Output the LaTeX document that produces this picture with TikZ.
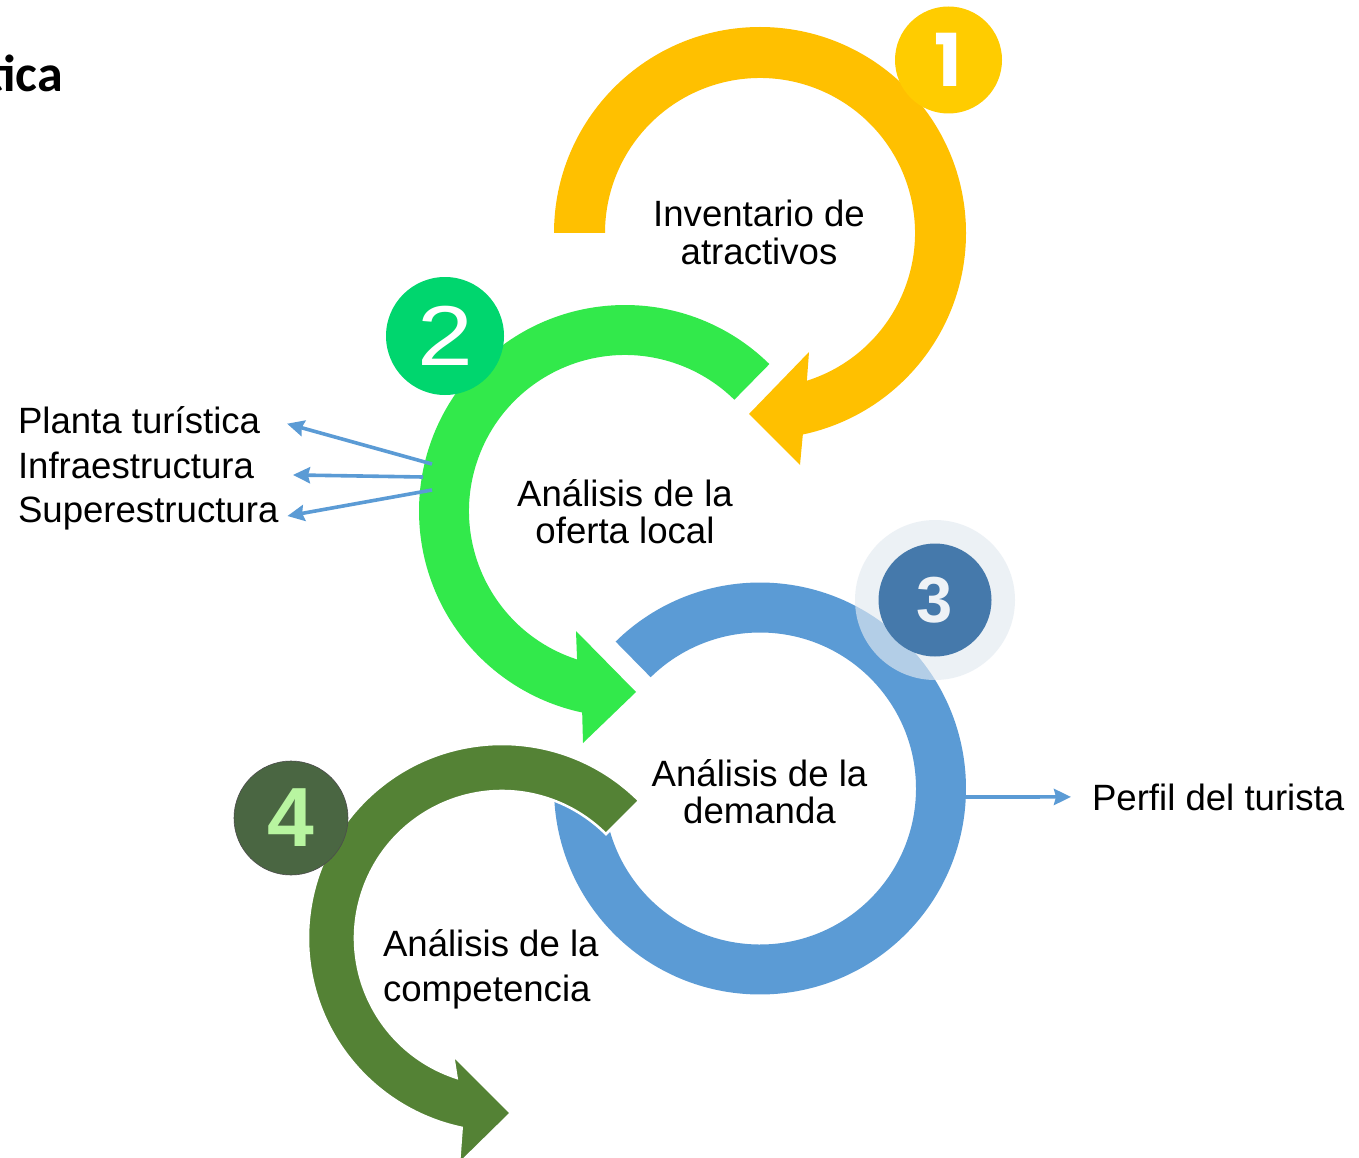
\documentclass[tikz,border=0pt]{standalone}
\usepackage{fontspec}
\setmainfont{Liberation Sans}
\newfontfamily\titlefont{Carlito}
\newfontfamily\popfont{Poppins}
\usetikzlibrary{arrows.meta,calc}
\definecolor{yellowArc}{HTML}{FFC000}
\definecolor{yellowCirc}{HTML}{FFCC00}
\definecolor{greenArc}{HTML}{32E94B}
\definecolor{greenCirc}{HTML}{00D66E}
\definecolor{blueArc}{HTML}{5B9BD5}
\definecolor{blueCirc}{HTML}{4579AB}
\definecolor{haloCol}{HTML}{E3EAF1}
\definecolor{darkArc}{HTML}{548235}
\definecolor{darkCirc}{HTML}{4A6642}
\definecolor{fourCol}{HTML}{B8F5A0}
\definecolor{threeCol}{HTML}{EEF2F6}
\definecolor{connCol}{HTML}{5B9BD5}
\begin{document}
\begin{tikzpicture}[x=1pt,y=-1pt,
  lbl/.style={inner sep=0pt, outer sep=0pt, font=\fontsize{36.6}{37.5}\selectfont},
  numcirc/.style={circle, inner sep=0pt, outer sep=0pt},
  conn/.style={draw=connCol, line width=3.6pt, -{Stealth[length=17pt,width=16pt,inset=2pt]}}]
\useasboundingbox (0,0) rectangle (1359,1158);
\clip (0,0) rectangle (1359,1158);
\fill[white] (0,0) rectangle (1359,1158);

% centres of the four circular arrows
\coordinate (cY) at (760,233);
\coordinate (cG) at (625,511);
\coordinate (cB) at (760,788.5);
\coordinate (cD) at (502,938);

% 1 yellow arc
\fill[yellowArc] ($(cY)+(180:206)$) arc[start angle=180,end angle=438,radius=206]
  -- (800,465) -- (749,414) -- (809,352) -- ($(cY)+(72.4:155)$)
  arc[start angle=72.4,end angle=-180,radius=155] -- cycle;

% 2 green arc
\fill[greenArc] ($(cG)+(-45.5:206)$) arc[start angle=-45.5,end angle=-258,radius=206]
  -- (583,743) -- (636,692) -- (576,631) -- ($(cG)+(-252.1:156)$)
  arc[start angle=-252.1,end angle=-45.5,radius=156] -- cycle;

% 3 blue arc
\fill[blueArc] ($(cB)+(-134.5:206)$) arc[start angle=-134.5,end angle=182,radius=206]
  -- ($(cB)+(182:156)$) arc[start angle=182,end angle=-134.5,radius=156] -- cycle;

% 4 dark green arc
\filldraw[fill=darkArc, draw=white, line width=2.5pt, line join=miter]
  ($(cD)+(-45:194)$) arc[start angle=-45,end angle=-258,radius=194]
  -- (459,1164) -- (511,1113) -- (453,1055) -- ($(cD)+(-252:147)$)
  arc[start angle=-252,end angle=-45,radius=147] -- cycle;

% number badges
\fill[haloCol, opacity=0.65] (935,600) circle[radius=80];
\node[numcirc, fill=blueCirc, minimum size=113pt, text=threeCol,
  font=\bfseries\fontsize{65}{65}\selectfont] (n3) at (935,600) {3};
\node[numcirc, fill=yellowCirc, minimum size=107pt, text=white,
  font=\popfont\bfseries\fontsize{73}{73}\selectfont] (n1) at (948.5,60) {1};
\node[numcirc, fill=greenCirc, minimum size=118pt, text=white,
  font=\fontsize{85}{85}\selectfont] (n2) at (445,336) {\scalebox{1.18}[1]{2}};
\node[numcirc, fill=darkCirc, draw=black!70, line width=0.6pt, minimum size=114pt, text=fourCol,
  font=\bfseries\fontsize{84}{84}\selectfont] (n4) at (291,818) {4};

% title (cut off at the left edge, as in the reference)
\node[anchor=base east, inner sep=0pt, font=\titlefont\bfseries\fontsize{52}{52}\selectfont] (title) at (63,92) {turística};

% labels inside the arcs
\node[lbl, anchor=base] (inv) at (759,227) {\begin{tabular}[t]{@{}c@{}}Inventario de\\atractivos\end{tabular}};
\node[lbl, anchor=base] (oferta) at (625,506) {\begin{tabular}[t]{@{}c@{}}Análisis de la\\oferta local\end{tabular}};
\node[lbl, anchor=base] (demanda) at (759.5,786) {\begin{tabular}[t]{@{}c@{}}Análisis de la\\demanda\end{tabular}};
\node[lbl, anchor=base west, font=\fontsize{36.6}{45}\selectfont] (compet) at (383,956) {\begin{tabular}[t]{@{}l@{}}Análisis de la\\competencia\end{tabular}};

% side labels
\node[lbl, anchor=base west] (planta) at (18,433) {Planta turística};
\node[lbl, anchor=base west] (infra) at (18,478) {Infraestructura};
\node[lbl, anchor=base west] (super) at (18,522) {Superestructura};
\node[lbl, anchor=base west] (perfil) at (1092,810) {Perfil del turista};

% connectors
\coordinate (g1) at (432,464);
\coordinate (g2) at (423,477);
\coordinate (g3) at (432,490);
\coordinate (b1) at (965,797);
\draw[conn] (g1) -- ($(planta.east)+(27,4)$);
\draw[conn] (g2) -- ($(infra.east)+(39,10)$);
\draw[conn] (g3) -- ($(super.east)+(9,3)$);
\draw[conn] (b1) -- ($(perfil.west)+(-21,0)$);
\end{tikzpicture}
\end{document}
